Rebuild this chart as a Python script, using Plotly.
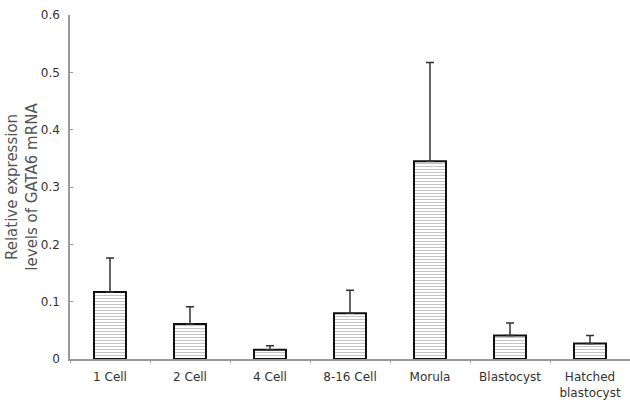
import plotly.graph_objects as go

categories = ["1 Cell", "2 Cell", "4 Cell", "8-16 Cell", "Morula", "Blastocyst", "Hatched<br>blastocyst"]
means = [0.117, 0.061, 0.016, 0.080, 0.345, 0.041, 0.027]
errors_up = [0.059, 0.030, 0.007, 0.040, 0.172, 0.022, 0.014]
y_ticks = [0, 0.1, 0.2, 0.3, 0.4, 0.5, 0.6]
y_tick_labels = ["0", "0.1", "0.2", "0.3", "0.4", "0.5", "0.6"]

FONT = "DejaVu Sans, Arial, sans-serif"

fig = go.Figure()
fig.add_trace(go.Bar(
    x=categories,
    y=means,
    width=0.4,
    marker=dict(
        color="white",
        line=dict(color="#111111", width=2),
        pattern=dict(shape="-", fgcolor="#8a8a8a", bgcolor="white", size=3, solidity=0.35),
    ),
    error_y=dict(type="data", array=errors_up, arrayminus=[0] * len(errors_up),
                 symmetric=False, color="#333333", thickness=1.5, width=4),
))

fig.update_layout(
    width=630, height=400,
    margin=dict(l=70, r=0, t=15, b=41),
    paper_bgcolor="white", plot_bgcolor="white",
    showlegend=False,
    font=dict(family=FONT, size=12, color="#333333"),
    xaxis=dict(
        showline=True, linecolor="#999999", linewidth=1.5,
        ticks="outside", tickson="boundaries", ticklen=2, tickcolor="#999999",
        showgrid=False, zeroline=False,
        tickfont=dict(family=FONT, size=12, color="#333333"),
        ticklabelstandoff=6,
    ),
    yaxis=dict(
        range=[0, 0.6],
        tickvals=y_ticks, ticktext=y_tick_labels,
        showline=True, linecolor="#999999", linewidth=1.5,
        ticks="inside", ticklen=3, tickcolor="#999999",
        showgrid=False, zeroline=False,
        tickfont=dict(family=FONT, size=12, color="#333333"),
        ticklabelstandoff=6,
        title=dict(text="Relative expression<br>levels of GATA6 mRNA",
                   font=dict(family=FONT, size=15, color="#555555"), standoff=0),
    ),
)

fig.write_html("out.html")
